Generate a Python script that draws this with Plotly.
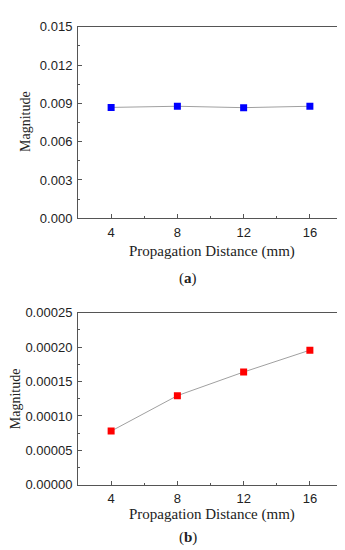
import plotly.graph_objects as go

distance = [4, 8, 12, 16]
magnitude_a = [0.00868, 0.00877, 0.00866, 0.00877]
magnitude_b = [0.000078, 0.0001295, 0.0001638, 0.0001955]
x_ticks = [4, 8, 12, 16]
ya_ticks = [0.0, 0.003, 0.006, 0.009, 0.012, 0.015]
ya_labels = ["0.000", "0.003", "0.006", "0.009", "0.012", "0.015"]
yb_ticks = [0.0, 0.00005, 0.0001, 0.00015, 0.0002, 0.00025]
yb_labels = ["0.00000", "0.00005", "0.00010", "0.00015", "0.00020", "0.00025"]

W, H = 345, 550
fig = go.Figure()

fig.add_trace(go.Scatter(x=distance, y=magnitude_a, mode="lines+markers",
                         line=dict(color="#a0a0a0", width=1),
                         marker=dict(symbol="square", size=7, color="#0000ff"),
                         xaxis="x", yaxis="y", showlegend=False))
fig.add_trace(go.Scatter(x=distance, y=magnitude_b, mode="lines+markers",
                         line=dict(color="#a0a0a0", width=1),
                         marker=dict(symbol="square", size=7, color="#ff0000"),
                         xaxis="x2", yaxis="y2", showlegend=False))

tickfont = dict(family="Liberation Sans", size=13, color="#222")
common_ax = dict(showline=True, linecolor="#555", linewidth=1, mirror=True,
                 ticks="inside", ticklen=4, tickcolor="#555", showgrid=False,
                 zeroline=False, tickfont=tickfont, ticklabelstandoff=2)

xdom = [70 / W, 335 / W]
fig.update_layout(
    width=W, height=H, margin=dict(l=0, r=0, t=0, b=0),
    paper_bgcolor="white", plot_bgcolor="white",
    xaxis=dict(domain=xdom, range=[2, 18], tickvals=x_ticks, anchor="y",
               minor=dict(tickvals=[6, 10, 14], ticks="inside", ticklen=2, tickcolor="#555"),
               **common_ax),
    yaxis=dict(domain=[1 - 209 / H, 1 - 12 / H], range=[0, 0.015], tickvals=ya_ticks,
               ticktext=ya_labels, anchor="x",
               minor=dict(tickvals=[0.0015, 0.0045, 0.0075, 0.0105, 0.0135], ticks="inside",
                          ticklen=2, tickcolor="#555"),
               **common_ax),
    xaxis2=dict(domain=xdom, range=[2, 18], tickvals=x_ticks, anchor="y2",
                minor=dict(tickvals=[6, 10, 14], ticks="inside", ticklen=2, tickcolor="#555"),
                **common_ax),
    yaxis2=dict(domain=[1 - 483 / H, 1 - 306 / H], range=[0, 0.00025], tickvals=yb_ticks,
                ticktext=yb_labels, anchor="x2",
                minor=dict(tickvals=[0.000025, 0.000075, 0.000125, 0.000175, 0.000225],
                           ticks="inside", ticklen=2, tickcolor="#555"),
                **common_ax),
)

serif = "Liberation Serif"
anns = [
    dict(text="Propagation Distance (mm)", x=0.59, y=1 - 243 / H, size=15, angle=0),
    dict(text="Propagation Distance (mm)", x=0.59, y=1 - 514 / H, size=15, angle=0),
    dict(text="Magnitude", x=18 / W, y=1 - 110 / H, size=14, angle=-90),
    dict(text="Magnitude", x=7 / W, y=1 - 395 / H, size=14, angle=-90),
    dict(text="(<b>a</b>)", x=180 / W, y=1 - 271 / H, size=15, angle=0),
    dict(text="(<b>b</b>)", x=180 / W, y=1 - 537 / H, size=15, angle=0),
]
for a in anns:
    fig.add_annotation(text=a["text"], x=a["x"], y=a["y"], xref="paper", yref="paper",
                       showarrow=False, textangle=a["angle"], xanchor="center", yanchor="middle",
                       font=dict(family=serif, size=a["size"], color="#222"))

fig.write_html("out.html")
